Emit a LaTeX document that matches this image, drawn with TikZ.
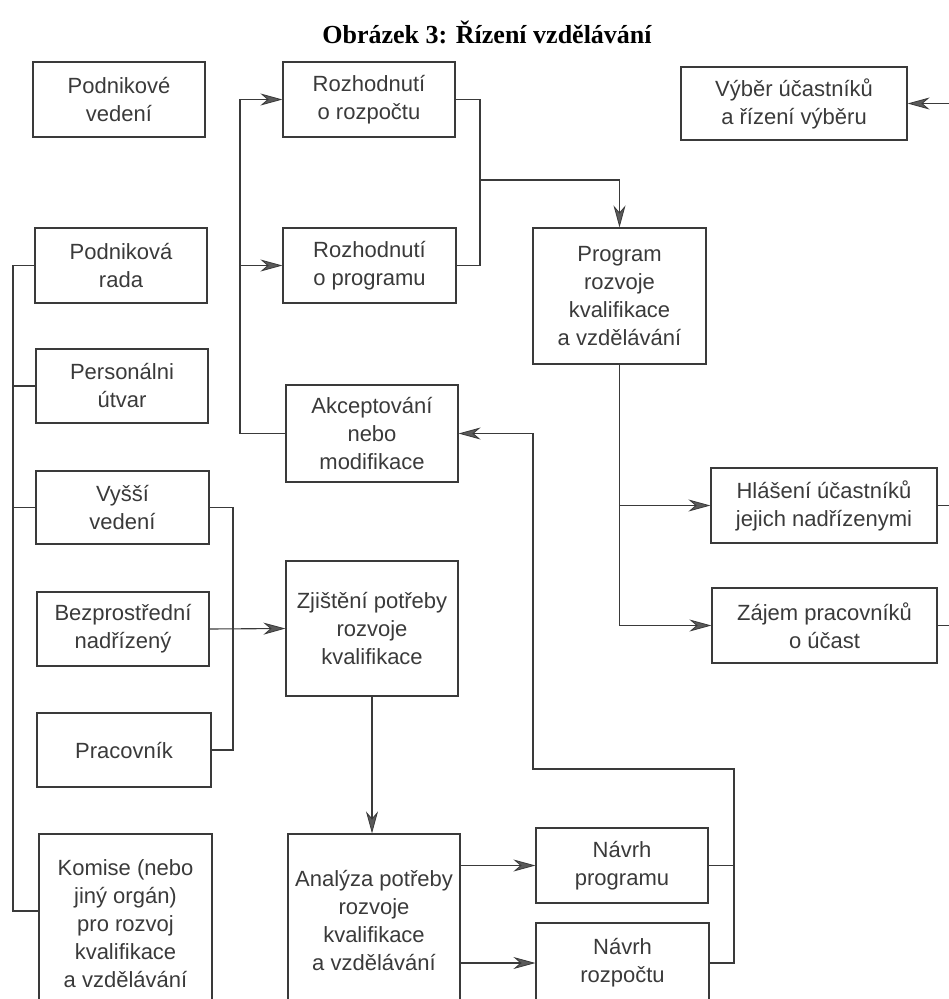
\documentclass[tikz,border=0pt]{standalone}
\usepackage{fontspec}
\setmainfont{Liberation Serif}
\newfontfamily\boxfont{Liberation Sans}
\usetikzlibrary{arrows.meta}
\definecolor{ink}{HTML}{3A3A3A}
\definecolor{tipfill}{HTML}{5A5A5A}
\tikzset{
  box/.style={draw=ink, line width=1.2pt, text=ink, align=center,
    inner sep=0pt, font=\boxfont\fontsize{22}{28}\selectfont},
  wire/.style={draw=ink, line width=1.1pt},
  arr/.style={wire, -{Stealth[length=22pt, width=12pt, inset=7pt, fill=tipfill, color=ink, line width=0.8pt]}},
}
\begin{document}
\begin{tikzpicture}[x=1pt, y=-1pt]
\useasboundingbox (0,0) rectangle (949,999);
\clip (0,0) rectangle (949,999);

% title
\node[font=\bfseries\fontsize{26}{30}\selectfont, text=black] (title) at (487,32) {Obrázek 3: Řízení vzdělávání};

% left column
\node[box, minimum width=172pt, minimum height=75pt] (pv) at (119,99.5) {Podnikové\\vedení};
\node[box, minimum width=172pt, minimum height=75pt] (pr) at (121,265.5) {Podniková\\rada};
\node[box, minimum width=172pt, minimum height=74pt] (pu) at (122,386) {Personálni\\útvar};
\node[box, minimum width=173pt, minimum height=73pt] (vv) at (122.5,507.5) {Vyšší\\vedení};
\node[box, minimum width=172pt, minimum height=74pt] (bn) at (123,629) {Bezprostřední\\nadřízený};
\node[box, minimum width=174pt, minimum height=74pt] (pk) at (124,750) {Pracovník};
\node[box, minimum width=173pt, minimum height=180pt] (km) at (125.5,924) {Komise (nebo\\jiný orgán)\\pro rozvoj\\kvalifikace\\a vzdělávání};

% middle column
\node[box, minimum width=172pt, minimum height=75pt] (rr) at (369,99.5) {Rozhodnutí\\o rozpočtu};
\node[box, minimum width=173pt, minimum height=75pt] (rp) at (369.5,265.5) {Rozhodnutí\\o programu};
\node[box, minimum width=172pt, minimum height=97pt] (ak) at (372,433.5) {Akceptování\\nebo\\modifikace};
\node[box, minimum width=172pt, minimum height=135pt] (zp) at (372,628.5) {Zjištění potřeby\\rozvoje\\kvalifikace};
\node[box, minimum width=172pt, minimum height=172pt] (an) at (374,920) {Analýza potřeby\\rozvoje\\kvalifikace\\a vzdělávání};

% right-middle column
\node[box, minimum width=173pt, minimum height=136pt] (prg) at (619.5,296) {Program\\rozvoje\\kvalifikace\\a vzdělávání};
\node[box, minimum width=172pt, minimum height=75pt] (np) at (622,865.5) {Návrh\\programu};
\node[box, minimum width=173pt, minimum height=80pt] (nr) at (622.5,963) {Návrh\\rozpočtu};

% right column
\node[box, minimum width=226pt, minimum height=73pt] (vy) at (794,103.5) {Výběr účastníků\\a řízení výběru};
\node[box, minimum width=226pt, minimum height=75pt] (hl) at (824,505.5) {Hlášení účastníků\\jejich nadřízenymi};
\node[box, minimum width=225pt, minimum height=75pt] (zj) at (824.5,625.5) {Zájem pracovníků\\o účast};

% junction points
\coordinate (busT) at (13,265.5);
\coordinate (busB) at (13,911);
\coordinate (akx) at (240,433.5);
\coordinate (mrg) at (480,180);
\coordinate (vx) at (233,629);
\coordinate (rb) at (962,600);
\coordinate (k1) at (734,769);
\coordinate (k2) at (533,769);

% left bus joining the bodies
\draw[wire] (pr.west) -- (busT) -- (busB) -- (busB -| km.west);
\draw[wire] (pu.west) -- (pu.west -| busT);
\draw[wire] (vv.west) -- (vv.west -| busT);

% decisions fed from acceptance
\draw[arr] (ak.west) -- (akx) |- (rr.west);
\draw[arr] (akx |- rp.west) -- (rp.west);

% decisions merge into the programme
\draw[wire] (rr.east) -| (mrg) |- (rp.east);
\draw[arr] (mrg) -| (prg.north);

% programme branches
\draw[arr] (prg.south) |- (zj.west);
\draw[arr] (prg.south |- hl.west) -- (hl.west);

% right-hand return to selection
\draw[wire] (hl.east) -- (hl.east -| rb);
\draw[arr] (zj.east) -- (zj.east -| rb) |- (vy.east);

% proposals back to acceptance
\draw[wire] (np.east) -- (np.east -| k1);
\draw[arr] (nr.east) -| (k1) -- (k2) |- (ak.east);

% sources of needs
\draw[wire] (vv.east) -| (vx) |- (pk.east);
\draw[arr] (bn.east) -- (zp.west);

% needs to analysis to proposals
\draw[arr] (zp.south) -- (zp.south |- an.north);
\draw[arr] (an.east |- np.west) -- (np.west);
\draw[arr] (an.east |- nr.west) -- (nr.west);
\end{tikzpicture}
\end{document}
